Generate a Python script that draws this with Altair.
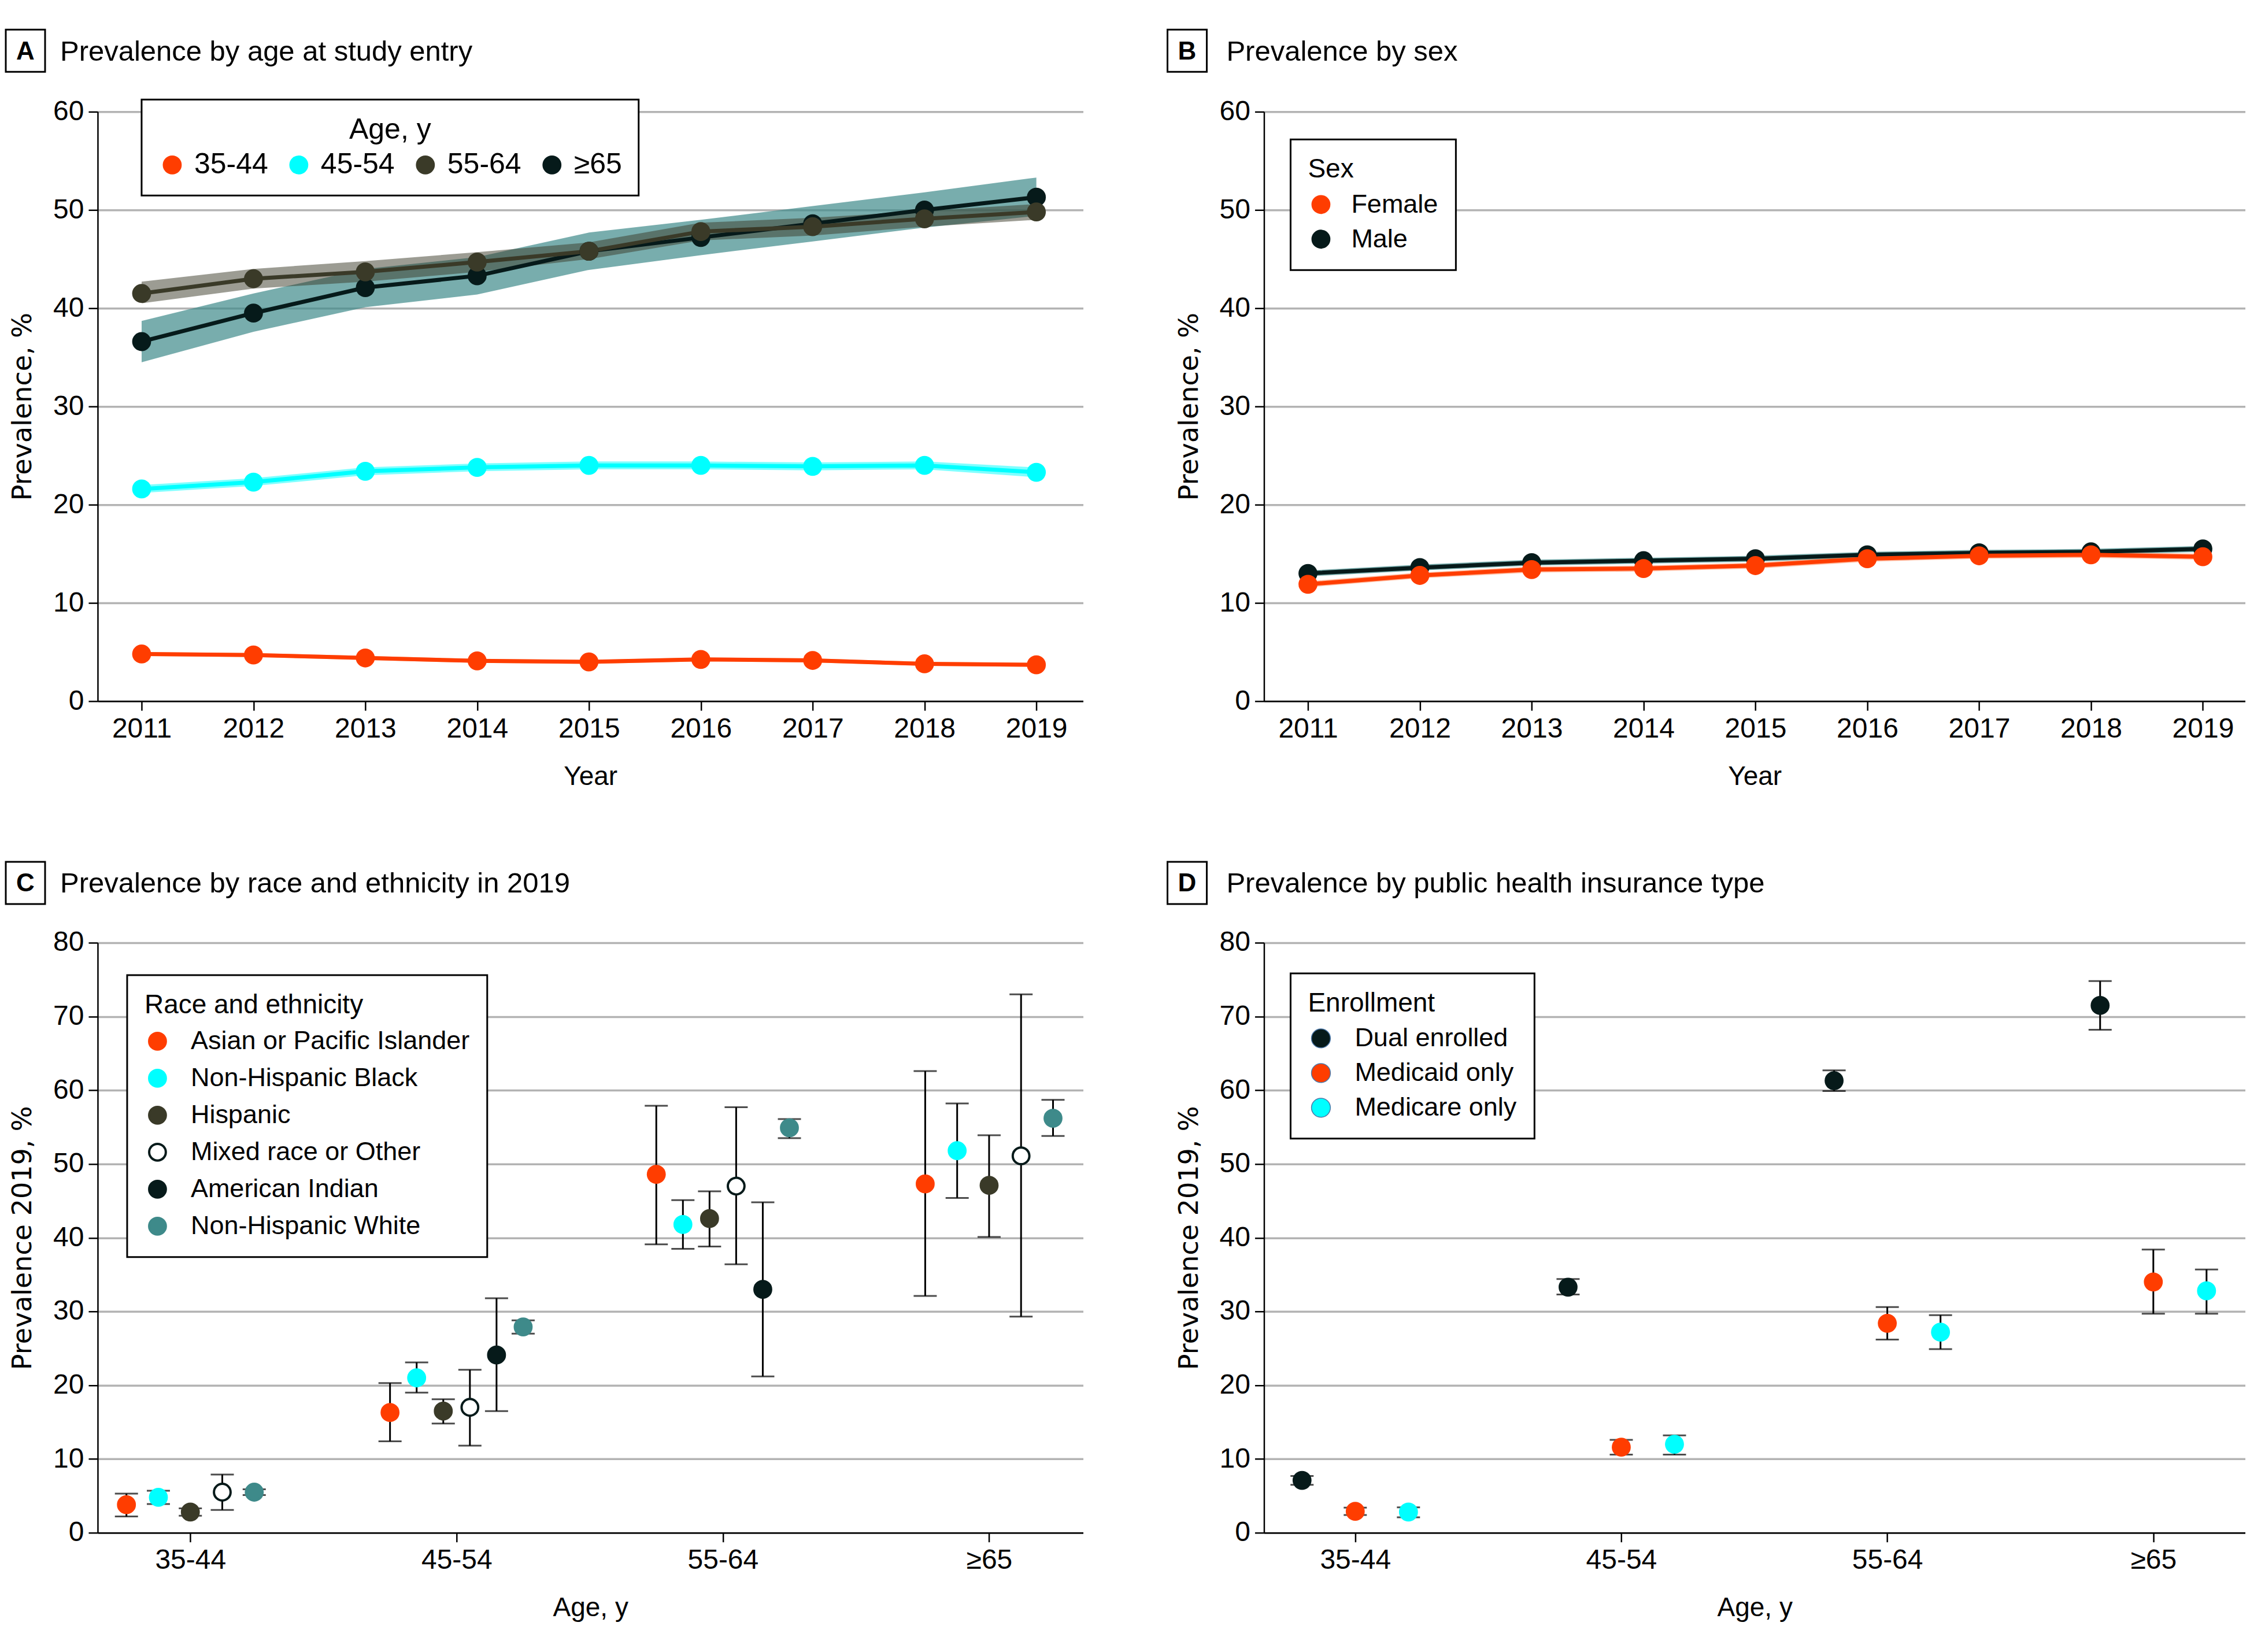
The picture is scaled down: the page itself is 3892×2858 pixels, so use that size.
import altair as alt
import pandas as pd

# ---------------- data ----------------
years = [2011, 2012, 2013, 2014, 2015, 2016, 2017, 2018, 2019]

age_groups = ["35-44", "45-54", "55-64", "≥65"]
age_colors = ["#FF3D00", "#00FFFF", "#3A3A28", "#061A1A"]
age_band_colors = ["#FF6A30", "#00FFFF", "#3A3A28", "#3E8A8A"]
age_band_opacity = [0.45, 0.5, 0.5, 0.7]

prev_35_44 = [4.8, 4.7, 4.4, 4.1, 4.0, 4.25, 4.15, 3.8, 3.7]
lo_35_44 = [4.6, 4.5, 4.2, 3.9, 3.8, 4.05, 3.95, 3.6, 3.5]
hi_35_44 = [5.0, 4.9, 4.6, 4.3, 4.2, 4.45, 4.35, 4.0, 3.9]
prev_45_54 = [21.6, 22.3, 23.4, 23.8, 24.0, 24.0, 23.9, 24.0, 23.3]
lo_45_54 = [21.2, 21.9, 23.0, 23.4, 23.6, 23.6, 23.5, 23.6, 22.8]
hi_45_54 = [22.0, 22.7, 23.8, 24.2, 24.4, 24.4, 24.3, 24.4, 23.8]
prev_55_64 = [41.5, 43.0, 43.7, 44.7, 45.8, 47.8, 48.3, 49.1, 49.8]
lo_55_64 = [40.5, 42.0, 42.7, 43.7, 45.0, 46.9, 47.4, 48.3, 49.0]
hi_55_64 = [42.7, 44.0, 44.8, 45.7, 46.7, 48.7, 49.2, 49.9, 50.6]
prev_65 = [36.6, 39.5, 42.1, 43.3, 45.8, 47.2, 48.6, 50.0, 51.3]
lo_65 = [34.5, 37.6, 40.1, 41.4, 43.9, 45.4, 46.8, 48.2, 49.4]
hi_65 = [38.7, 41.5, 44.0, 45.2, 47.7, 49.0, 50.4, 51.8, 53.3]

sexes = ["Female", "Male"]
sex_colors = ["#FF3D00", "#061A1A"]
sex_band_colors = ["#FF6A30", "#3E8A8A"]
sex_band_opacity = [0.45, 0.7]
prev_female = [11.9, 12.8, 13.4, 13.5, 13.8, 14.5, 14.8, 14.9, 14.7]
lo_female = [11.6, 12.5, 13.1, 13.2, 13.5, 14.2, 14.5, 14.6, 14.4]
hi_female = [12.2, 13.1, 13.7, 13.8, 14.1, 14.8, 15.1, 15.2, 15.0]
prev_male = [13.0, 13.6, 14.1, 14.3, 14.5, 14.9, 15.1, 15.2, 15.5]
lo_male = [12.7, 13.3, 13.8, 14.0, 14.2, 14.6, 14.8, 14.9, 15.2]
hi_male = [13.3, 13.9, 14.4, 14.6, 14.8, 15.2, 15.4, 15.5, 15.8]

races = ["Asian or Pacific Islander", "Non-Hispanic Black", "Hispanic",
         "Mixed race or Other", "American Indian", "Non-Hispanic White"]
race_fill = ["#FF3D00", "#00FFFF", "#3A3A28", "#FFFFFF", "#061A1A", "#3E8A8A"]
race_stroke = ["#FF3D00", "#00FFFF", "#3A3A28", "#061A1A", "#061A1A", "#3E8A8A"]
race_prev = {
    "Asian or Pacific Islander": [3.8, 16.3, 48.6, 47.3],
    "Non-Hispanic Black": [4.8, 21.0, 41.8, 51.8],
    "Hispanic": [2.8, 16.5, 42.6, 47.1],
    "Mixed race or Other": [5.5, 17.0, 47.0, 51.1],
    "American Indian": [None, 24.1, 33.0, None],
    "Non-Hispanic White": [5.5, 27.9, 54.9, 56.2],
}
race_lo = {
    "Asian or Pacific Islander": [2.2, 12.4, 39.1, 32.1],
    "Non-Hispanic Black": [3.9, 19.0, 38.5, 45.4],
    "Hispanic": [2.3, 14.8, 38.8, 40.1],
    "Mixed race or Other": [3.1, 11.8, 36.4, 29.3],
    "American Indian": [None, 16.5, 21.2, None],
    "Non-Hispanic White": [5.1, 27.0, 53.5, 53.8],
}
race_hi = {
    "Asian or Pacific Islander": [5.3, 20.3, 57.9, 62.6],
    "Non-Hispanic Black": [5.7, 23.1, 45.1, 58.2],
    "Hispanic": [3.3, 18.1, 46.3, 53.9],
    "Mixed race or Other": [7.9, 22.1, 57.7, 73.0],
    "American Indian": [None, 31.8, 44.8, None],
    "Non-Hispanic White": [5.9, 28.8, 56.1, 58.7],
}

enrollments = ["Dual enrolled", "Medicaid only", "Medicare only"]
enroll_colors = ["#061A1A", "#FF3D00", "#00FFFF"]
enroll_prev = {
    "Dual enrolled": [7.1, 33.3, 61.3, 71.5],
    "Medicaid only": [2.9, 11.6, 28.4, 34.0],
    "Medicare only": [2.8, 12.0, 27.2, 32.8],
}
enroll_lo = {
    "Dual enrolled": [6.5, 32.3, 59.9, 68.2],
    "Medicaid only": [2.4, 10.6, 26.2, 29.7],
    "Medicare only": [2.1, 10.6, 24.9, 29.7],
}
enroll_hi = {
    "Dual enrolled": [7.7, 34.4, 62.7, 74.8],
    "Medicaid only": [3.4, 12.6, 30.6, 38.4],
    "Medicare only": [3.45, 13.2, 29.5, 35.7],
}

panel_letters = ["A", "B", "C", "D"]
panel_titles = ["Prevalence by age at study entry", "Prevalence by sex",
                "Prevalence by race and ethnicity in 2019",
                "Prevalence by public health insurance type"]

FONT = "Liberation Sans"
DODGE = 0.6

# ---------------- tables ----------------
age_series = {
    "≥65": (prev_65, lo_65, hi_65),
    "55-64": (prev_55_64, lo_55_64, hi_55_64),
    "45-54": (prev_45_54, lo_45_54, hi_45_54),
    "35-44": (prev_35_44, lo_35_44, hi_35_44),
}
rows = []
for g, (p, lo, hi) in age_series.items():
    for y, a, b, c in zip(years, p, lo, hi):
        rows.append({"year": y, "grp": g, "prev": a, "lo": b, "hi": c})
df_age = pd.DataFrame(rows)

sex_series = {"Male": (prev_male, lo_male, hi_male),
              "Female": (prev_female, lo_female, hi_female)}
rows = []
for g, (p, lo, hi) in sex_series.items():
    for y, a, b, c in zip(years, p, lo, hi):
        rows.append({"year": y, "grp": g, "prev": a, "lo": b, "hi": c})
df_sex = pd.DataFrame(rows)


def dodge_table(cats, prev, lo, hi, name):
    out = []
    for i in range(len(age_groups)):
        present = [c for c in cats if prev[c][i] is not None]
        n = len(present)
        for k, c in enumerate(present):
            out.append({"pos": i + ((k + 0.5) / n - 0.5) * DODGE, name: c,
                        "prev": prev[c][i], "lo": lo[c][i], "hi": hi[c][i]})
    return pd.DataFrame(out)


df_race = dodge_table(races, race_prev, race_lo, race_hi, "race")
df_enr = dodge_table(enrollments, enroll_prev, enroll_lo, enroll_hi, "enroll")

age_label_expr = "[" + ",".join("'%s'" % a for a in age_groups) + "][datum.value]"


def title_layers(idx, box_x, box_y):
    df = pd.DataFrame({"letter": [panel_letters[idx]], "title": [panel_titles[idx]]})
    base = alt.Chart(df)
    bw, bh = 68, 73
    rect = base.mark_rect(fill="white", stroke="black", strokeWidth=3).encode(
        x=alt.value(box_x), x2=alt.value(box_x + bw),
        y=alt.value(box_y), y2=alt.value(box_y + bh))
    letter = base.mark_text(font=FONT, fontSize=44, fontWeight="bold", align="center",
                            baseline="middle", color="black").encode(
        x=alt.value(box_x + bw / 2), y=alt.value(box_y + bh / 2 + 2), text="letter:N")
    title = base.mark_text(font=FONT, fontSize=49, align="left", baseline="middle",
                           color="black").encode(
        x=alt.value(-65), y=alt.value(box_y + bh / 2 + 2), text="title:N")
    return [rect, letter, title]


def trend_panel(df, domain, colors, band_colors, band_opac, draw_order, legend, xdom,
                width, idx, box_x):
    base = alt.Chart(df)
    x = alt.X("year:Q", scale=alt.Scale(domain=xdom, nice=False, zero=False),
              axis=alt.Axis(values=years, format="d", title="Year"))
    y = alt.Y("prev:Q", scale=alt.Scale(domain=[0, 60], nice=False),
              axis=alt.Axis(values=[0, 10, 20, 30, 40, 50, 60], title="Prevalence, %"))
    bands, lines = [], []
    for g in draw_order:
        k = domain.index(g)
        sub = base.transform_filter(alt.datum.grp == g)
        bands.append(sub.mark_area(color=band_colors[k], opacity=band_opac[k]).encode(
            x=x, y=alt.Y("lo:Q"), y2="hi:Q"))
        lines.append(sub.mark_line(color=colors[k], strokeWidth=7).encode(x=x, y=y))
    pts = base.mark_circle(size=1075, opacity=1).encode(
        x=x, y=y,
        color=alt.Color("grp:N", scale=alt.Scale(domain=domain, range=colors),
                        legend=legend))
    return alt.layer(*bands, *lines, pts, *title_layers(idx, box_x, -142)).properties(
        width=width, height=1020)


def dot_panel(df, fill_enc, stroke_enc, xdom, width, idx, box_x, ptsize, sw):
    base = alt.Chart(df)
    x = alt.X("pos:Q", scale=alt.Scale(domain=xdom, nice=False, zero=False),
              axis=alt.Axis(values=[0, 1, 2, 3], labelExpr=age_label_expr, title="Age, y"))
    y = alt.Y("prev:Q", scale=alt.Scale(domain=[0, 80], nice=False),
              axis=alt.Axis(values=[0, 10, 20, 30, 40, 50, 60, 70, 80],
                            title="Prevalence 2019, %"))
    rule = base.mark_rule(color="black", strokeWidth=3).encode(x=x, y="lo:Q", y2="hi:Q")
    cap_lo = base.mark_tick(orient="horizontal", size=40, thickness=3, color="black").encode(
        x=x, y="lo:Q")
    cap_hi = base.mark_tick(orient="horizontal", size=40, thickness=3, color="black").encode(
        x=x, y="hi:Q")
    enc = {"x": x, "y": y, "fill": fill_enc}
    if stroke_enc is not None:
        enc["stroke"] = stroke_enc
    pts = base.mark_point(size=ptsize, strokeWidth=sw, opacity=1, fillOpacity=1,
                          shape="circle").encode(**enc)
    return alt.layer(rule, cap_lo, cap_hi, pts, *title_layers(idx, box_x, -140)).properties(
        width=width, height=1021)


leg_common = dict(strokeColor="black", fillColor="white",
                  titleFont=FONT, labelFont=FONT, titleFontWeight="normal",
                  titleColor="black", labelColor="black", symbolType="circle",
                  labelLimit=1000, titleLimit=1000)

legA = alt.Legend(title="Age, y", orient="none", legendX=76, legendY=-21,
                  direction="horizontal", columns=4, titleAnchor="middle",
                  titleFontSize=50, labelFontSize=50, symbolSize=1075,
                  padding=28, titlePadding=10, labelOffset=13, columnPadding=28,
                  **leg_common)
legB = alt.Legend(title="Sex", orient="none", legendX=46, legendY=48,
                  direction="vertical", titleFontSize=46, labelFontSize=45,
                  symbolSize=1075, padding=30, titlePadding=14, labelOffset=30,
                  rowPadding=14, **leg_common)
legC = alt.Legend(title="Race and ethnicity", orient="none", legendX=51, legendY=56,
                  direction="vertical", titleFontSize=46, labelFontSize=45,
                  symbolSize=830, symbolStrokeWidth=4, padding=30, titlePadding=16,
                  labelOffset=35, rowPadding=18, **leg_common)
legD = alt.Legend(title="Enrollment", orient="none", legendX=46, legendY=53,
                  direction="vertical", titleFontSize=46, labelFontSize=45,
                  symbolSize=1075, padding=30, titlePadding=14, labelOffset=36,
                  rowPadding=14, **leg_common)

pA = trend_panel(df_age, age_groups, age_colors, age_band_colors, age_band_opacity,
                 ["≥65", "55-64", "45-54", "35-44"], legA,
                 [2010.607, 2019.418], 1705, 0, -159)
pB = trend_panel(df_sex, sexes, sex_colors, sex_band_colors, sex_band_opacity,
                 ["Male", "Female"], legB, [2010.607, 2019.38], 1698, 1, -167)
pC = dot_panel(
    df_race,
    alt.Fill("race:N", scale=alt.Scale(domain=races, range=race_fill), legend=legC),
    alt.Stroke("race:N", scale=alt.Scale(domain=races, range=race_stroke), legend=legC),
    [-0.348, 3.353], 1705, 2, -159, 830, 4)
pD = dot_panel(
    df_enr,
    alt.Fill("enroll:N", scale=alt.Scale(domain=enrollments, range=enroll_colors),
             legend=legD),
    None, [-0.343, 3.346], 1698, 3, -167, 1075, 0)

chart = alt.concat(pA, pB, pC, pD, columns=2, spacing={"row": 418, "column": 313},
                   bounds="flush").resolve_scale(
    x="independent", y="independent", color="independent", fill="independent",
    stroke="independent",
).resolve_legend(
    color="independent", fill="independent", stroke="independent",
).properties(
    padding={"left": 0, "top": 41, "right": 0, "bottom": 10},
    background="white",
).configure_view(stroke=None).configure_legend(
    strokeWidth=3, cornerRadius=0,
).configure_axis(
    labelFont=FONT, labelFontSize=48, labelColor="black",
    titleFont=FONT, titleFontSize=46, titleFontWeight="normal", titleColor="black",
    domainColor="black", domainWidth=2.5, tickColor="black", tickWidth=2.5, tickSize=16,
    gridColor="#b3b3b3", gridWidth=3.5, labelPadding=8,
).configure_axisX(grid=False, titlePadding=36).configure_axisY(
    grid=True, titleFont="DejaVu Sans", titleFontSize=46, titlePadding=28,
)

chart.save("out.html", embed_options={"renderer": "svg", "actions": False})
